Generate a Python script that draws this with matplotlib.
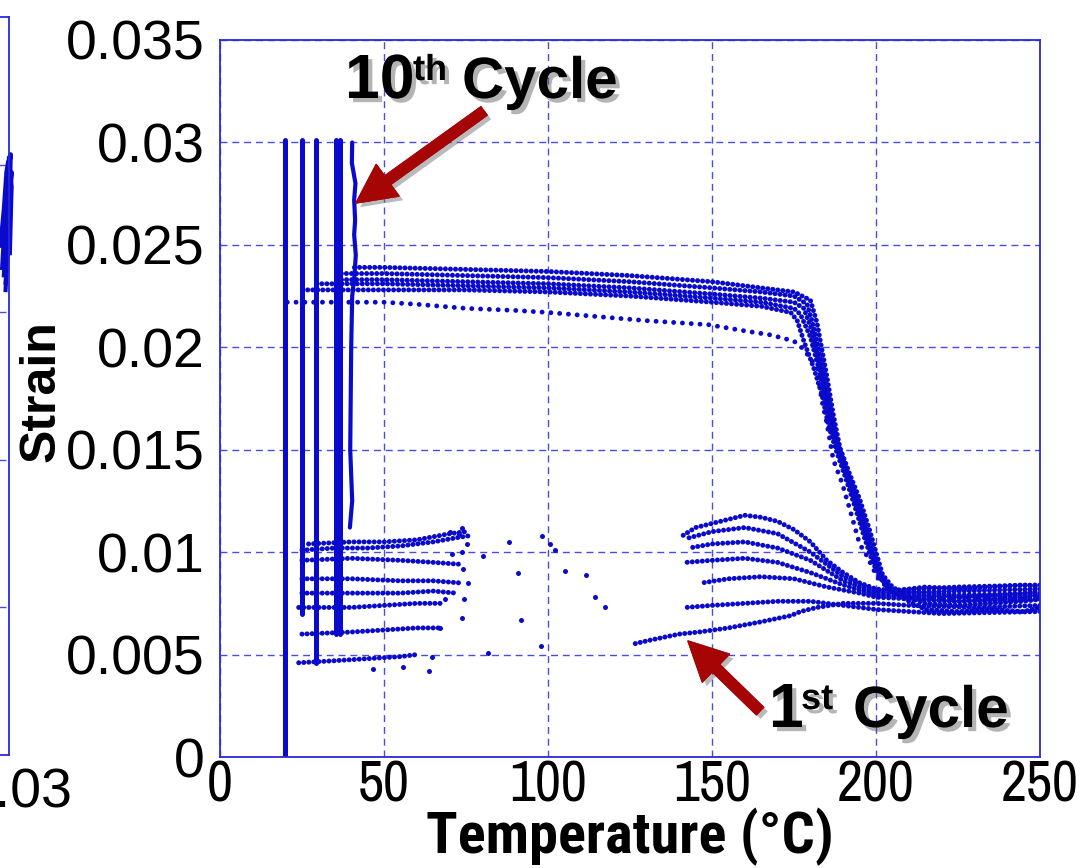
import matplotlib
matplotlib.use("Agg")
import matplotlib.pyplot as plt
import matplotlib.patches as mpatches
import matplotlib.patheffects as pe
from matplotlib import font_manager
from matplotlib.transforms import ScaledTranslation

# ---------------- data ----------------
# isothermal loading/unloading lines: temperature, lower strain, upper strain
vert_T = [19.8, 25.0, 29.3, 35.4, 36.6]
vert_lo = [0.0, 0.0070, 0.0046, 0.0060, 0.0060]
vert_hi = [0.0301, 0.0301, 0.0301, 0.0301, 0.0301]

# 10th cycle wavy loading line
v10_T = [40.3, 40.2, 41.3, 40.9, 41.2, 40.9, 41.4, 41.0, 40.3, 40.0, 39.7, 40.3, 39.6]
v10_S = [0.0300, 0.0290, 0.0280, 0.0272, 0.0262, 0.0255, 0.0245, 0.0235, 0.0225,
         0.0200, 0.0150, 0.0125, 0.0112]

# heating, 1st cycle
h1_T = [20.5, 30, 40, 50, 60, 75, 90, 100, 115, 130, 149, 160, 168, 175, 178, 182,
        183.5, 185, 187, 189.6, 192, 195, 197.3, 200.3, 205, 210, 220, 230, 240, 250]
h1_S = [0.0222, 0.0222, 0.0222, 0.0222, 0.0221, 0.0219, 0.0218, 0.0217, 0.0215, 0.0213,
        0.0211, 0.0208, 0.0206, 0.0203, 0.0199, 0.0190, 0.0174, 0.0163, 0.0145, 0.0134,
        0.0121, 0.0104, 0.0098, 0.0088, 0.0080, 0.0078, 0.0077, 0.0078, 0.0077, 0.0078]

# heating, later cycles (band)
hA_T = [41, 50, 75, 100, 125, 150, 165, 175, 180, 182, 185, 187, 189, 192, 195, 198,
        200, 202, 205, 208, 215, 225, 235, 245, 250]
hA_S = [0.0239, 0.0239, 0.0238, 0.0237, 0.0235, 0.0232, 0.0229, 0.0227, 0.0223, 0.0212,
        0.0186, 0.0167, 0.0151, 0.0138, 0.0126, 0.0111, 0.0100, 0.0089, 0.0083, 0.0080,
        0.0079, 0.0078, 0.0079, 0.0080, 0.0081]
hB_T = [37, 50, 75, 100, 125, 150, 165, 175, 179, 181, 184, 186, 188, 191, 194, 197,
        199, 201, 204, 207, 215, 225, 235, 245, 250]
hB_S = [0.0236, 0.0236, 0.0235, 0.0234, 0.0232, 0.0229, 0.0227, 0.0225, 0.0221, 0.0210,
        0.0188, 0.0170, 0.0155, 0.0140, 0.0127, 0.0112, 0.0100, 0.0090, 0.0083, 0.0079,
        0.0077, 0.0076, 0.0077, 0.0078, 0.0079]
hC_T = [35.5, 50, 75, 100, 125, 150, 165, 175, 178, 180.5, 183, 185, 187.5, 190, 193,
        196, 198.5, 200.5, 203, 206, 215, 225, 235, 245, 250]
hC_S = [0.0233, 0.0233, 0.0232, 0.0231, 0.0229, 0.0226, 0.0224, 0.0222, 0.0219, 0.0208,
        0.0190, 0.0175, 0.0158, 0.0145, 0.0130, 0.0115, 0.0102, 0.0091, 0.0084, 0.0080,
        0.0075, 0.0074, 0.0075, 0.0076, 0.0077]
hD_T = [29.5, 50, 75, 100, 125, 150, 165, 175, 177, 180, 182.5, 184.5, 186.5, 189, 192,
        195, 197.5, 200, 202.5, 205, 215, 225, 235, 245, 250]
hD_S = [0.0231, 0.0231, 0.0230, 0.0229, 0.0227, 0.0224, 0.0222, 0.0219, 0.0216, 0.0205,
        0.0190, 0.0176, 0.0160, 0.0147, 0.0133, 0.0118, 0.0105, 0.0093, 0.0085, 0.0081,
        0.0083, 0.0082, 0.0083, 0.0084, 0.0083]
hE_T = [25.2, 50, 75, 100, 125, 150, 165, 174, 176, 178, 181, 183.5, 185.5, 188, 191,
        194, 196.5, 199, 201.5, 204, 215, 225, 235, 245, 250]
hE_S = [0.0228, 0.0228, 0.0228, 0.0227, 0.0225, 0.0222, 0.0220, 0.0217, 0.0213, 0.0203,
        0.0190, 0.0177, 0.0162, 0.0149, 0.0135, 0.0120, 0.0107, 0.0095, 0.0087, 0.0081,
        0.0072, 0.0071, 0.0072, 0.0071, 0.0073]

# cooling, high-temperature / right cluster part
c1_T = [250, 230, 210, 200, 190, 182, 177, 174, 165, 155, 146, 140, 131, 125.6]
c1_S = [0.0074, 0.0073, 0.0074, 0.0075, 0.0075, 0.0073, 0.0071, 0.0069, 0.0066, 0.0063,
        0.0061, 0.0060, 0.0057, 0.0055]
c2_T = [250, 220, 200, 190, 180, 170, 160, 150, 142]
c2_S = [0.0071, 0.0070, 0.0072, 0.0074, 0.0076, 0.0076, 0.0075, 0.0074, 0.0073]
c3_T = [250, 225, 200, 195, 185, 175, 165, 155, 147]
c3_S = [0.0077, 0.0076, 0.0078, 0.0080, 0.0083, 0.0087, 0.0088, 0.0087, 0.0085]
c4_T = [250, 225, 200, 190, 180, 170, 160, 150, 142]
c4_S = [0.0079, 0.0078, 0.0079, 0.0084, 0.0090, 0.0095, 0.0097, 0.0096, 0.0095]
c5_T = [250, 225, 200, 190, 180, 170, 160, 150, 143]
c5_S = [0.0082, 0.0081, 0.0080, 0.0086, 0.0096, 0.0102, 0.0105, 0.0104, 0.0102]
c6_T = [250, 225, 200, 190, 180, 170, 160, 150, 143]
c6_S = [0.0084, 0.0083, 0.0081, 0.0088, 0.0100, 0.0109, 0.0112, 0.0110, 0.0107]
c7_T = [250, 225, 200, 195, 190, 185, 180, 175, 170, 165, 160, 155, 150, 145, 141]
c7_S = [0.0080, 0.0079, 0.0082, 0.0085, 0.0090, 0.0096, 0.0105, 0.0111, 0.0115, 0.0117,
        0.0118, 0.0116, 0.0114, 0.0112, 0.0108]

# cooling, low-temperature (left cluster) bands
L_T = [[27, 40, 50, 60, 70, 75],
       [25, 35, 45, 55, 65, 72, 76],
       [25, 40, 55, 65, 74],
       [25, 40, 55, 65, 73],
       [25, 40, 55, 65, 72],
       [24, 40, 50, 60, 68],
       [25, 40, 50, 60, 67],
       [24, 35, 45, 55, 60]]
L_S = [[0.0104, 0.0105, 0.0105, 0.0106, 0.0109, 0.0110],
       [0.0101, 0.0102, 0.0102, 0.0103, 0.0105, 0.0107, 0.0108],
       [0.0096, 0.0097, 0.0096, 0.0095, 0.0094],
       [0.0087, 0.0087, 0.0086, 0.0086, 0.0085],
       [0.0080, 0.0080, 0.0080, 0.0081, 0.0080],
       [0.0073, 0.0073, 0.0074, 0.0075, 0.0075],
       [0.0060, 0.0061, 0.0062, 0.0063, 0.0063],
       [0.0046, 0.0047, 0.0048, 0.0049, 0.0050]]

# isolated scattered points
sc_T = [73.7, 73.0, 75.2, 73.7, 74.0, 75.7, 74.5, 73.7, 63.7, 64.5, 67.1, 68.6, 70.7,
        70.0, 80.2, 88.1, 90.9, 81.7, 46.5, 55.9, 98.3, 100.5, 102.0, 105.2, 111.6,
        114.3, 117.4, 91.8, 97.9]
sc_S = [0.0112, 0.0109, 0.0104, 0.0100, 0.0092, 0.0085, 0.0077, 0.0068, 0.0042, 0.0049,
        0.0063, 0.0077, 0.0099, 0.0110, 0.0098, 0.0105, 0.0090, 0.0051, 0.0043, 0.0044,
        0.0108, 0.0104, 0.0101, 0.0091, 0.0089, 0.0078, 0.0073, 0.0067, 0.0054]

x_ticks = [0, 50, 100, 150, 200, 250]
y_ticks = [0, 0.005, 0.01, 0.015, 0.02, 0.025, 0.03, 0.035]
y_ticklabels = ["0", "0.005", "0.01", "0.015", "0.02", "0.025", "0.03", "0.035"]

# partial neighbouring panel (cut off at the left edge)
lp_x = [[0.0296, 0.0299, 0.0301, 0.0300, 0.0297, 0.0295],
        [0.0292, 0.0295, 0.0298, 0.0302, 0.0300, 0.0296],
        [0.0290, 0.0294, 0.0297, 0.0299, 0.0303, 0.0301],
        [0.0294, 0.0297, 0.0300, 0.0303, 0.0301, 0.0298]]
lp_y = [[3.15, 3.50, 3.80, 4.05, 3.70, 3.30],
        [3.30, 3.60, 3.90, 4.07, 3.55, 3.20],
        [3.45, 3.70, 3.95, 4.02, 3.85, 3.40],
        [3.25, 3.55, 3.75, 3.95, 3.60, 3.35]]

# ---------------- fonts ----------------
names = {f.name for f in font_manager.fontManager.ttflist}
REG = "Liberation Sans" if "Liberation Sans" in names else "DejaVu Sans"
def first(cands):
    for c in cands:
        if c in names:
            return c
    return REG
NAR = first(["Liberation Sans Narrow", "Arial Narrow", "Archivo Narrow", "Roboto Condensed"])
NARB = first(["Liberation Sans Narrow", "Arial Narrow", "Roboto Condensed", "Archivo Narrow"])

W, H = 1092, 868
def px(x, y):
    return (x / W, 1 - y / H)

BLUE = "#0a0acc"
FRAME = "#2a2ad8"
GRID = "#4a4ae6"
RED = "#a50505"

fig = plt.figure(figsize=(W / 100, H / 100), dpi=100)

# ---- partial left panel ----
axl = fig.add_axes([(9 - 300) / W, (H - 755) / H, 300 / W, (755 - 17) / H])
axl.set_xlim(-0.005, 0.03)
axl.set_ylim(0, 5)
axl.set_xticks([0.03])
axl.set_xticklabels(["0.03"], fontfamily=REG, fontsize=40)
axl.set_yticks([1, 2, 3, 4])
axl.set_yticklabels([])
axl.tick_params(length=0, pad=9)
for lab in axl.get_xticklabels():
    lab.set_transform(lab.get_transform() + ScaledTranslation(10 / 100, 0, fig.dpi_scale_trans))
axl.grid(True, axis="y", color=GRID, linestyle=(0, (5, 3.5)), lw=1.0)
for s in axl.spines.values():
    s.set_color(FRAME); s.set_linewidth(1.3)
for xs, ys in zip(lp_x, lp_y):
    axl.plot(xs, ys, color=BLUE, lw=3, clip_on=False)

# ---- main panel ----
ax = fig.add_axes([220 / W, (H - 757) / H, 820 / W, 717 / H])
ax.set_xlim(0, 250)
ax.set_ylim(0, 0.035)
ax.set_xticks(x_ticks)
ax.set_xticklabels([str(v) for v in x_ticks], fontfamily=NAR, fontsize=41)
ax.set_yticks(y_ticks)
ax.set_yticklabels(y_ticklabels, fontfamily=REG, fontsize=40)
ax.tick_params(axis="x", length=0, pad=2)
ax.tick_params(axis="y", length=0, pad=11)
ax.grid(True, color=GRID, linestyle=(0, (5, 3.5)), lw=1.0)
ax.set_axisbelow(True)
for s in ax.spines.values():
    s.set_color(FRAME); s.set_linewidth(1.3)

dot = dict(color=BLUE, lw=3.5, linestyle=(0, (0.01, 1.8)), dash_capstyle="round")
dense = dict(color=BLUE, lw=3.6, linestyle=(0, (0.01, 1.0)), dash_capstyle="round")

# loading lines
for T, lo, hi in zip(vert_T, vert_lo, vert_hi):
    ax.plot([T, T], [lo, hi], color=BLUE, lw=3.6, solid_capstyle="round")
ax.plot(v10_T, v10_S, color=BLUE, lw=3.0, solid_capstyle="round")

# heating
ax.plot(h1_T, h1_S, **dot)
for T, S in [(hA_T, hA_S), (hB_T, hB_S), (hC_T, hC_S), (hD_T, hD_S), (hE_T, hE_S)]:
    ax.plot(T, S, **dense)
# cooling
for T, S in [(c1_T, c1_S), (c2_T, c2_S), (c3_T, c3_S), (c4_T, c4_S),
             (c5_T, c5_S), (c6_T, c6_S), (c7_T, c7_S)]:
    ax.plot(T, S, **dense)
for T, S in zip(L_T, L_S):
    ax.plot(T, S, **dense)
ax.plot(sc_T, sc_S, "o", color=BLUE, ms=3.6, mew=0)

# axis labels
fig.text(*px(42, 391), "Strain", rotation=90, ha="center", va="center",
         fontfamily=REG, fontweight="bold", fontsize=36)
fig.text(*px(630, 837), "Temperature (°C)", ha="center", va="center",
         fontfamily=NARB, fontweight="bold", fontsize=42)

# annotations
shadow = [pe.withSimplePatchShadow(offset=(3, -3), shadow_rgbFace="0.35", alpha=0.45)]
for (big, sup, xb, yb, xs, ys, xc) in [("10", "th", 345, 98, 413, 80, 462),
                                         ("1", "st", 769, 727, 801, 709, 853)]:
    fig.text(*px(xb, yb), big, fontfamily=REG, fontweight="bold", fontsize=45,
             va="baseline", path_effects=shadow)
    fig.text(*px(xs, ys), sup, fontfamily=REG, fontweight="bold", fontsize=26,
             va="baseline", path_effects=shadow)
    fig.text(*px(xc, yb), "Cycle", fontfamily=REG, fontweight="bold", fontsize=42,
             va="baseline", path_effects=shadow)

def arrow(tail, head):
    a = mpatches.FancyArrowPatch(px(*tail), px(*head), transform=fig.transFigure,
                                 arrowstyle=mpatches.ArrowStyle.Simple(head_length=28, head_width=28, tail_width=7.5),
                                 color=RED, shrinkA=0, shrinkB=0, zorder=10,
                                 path_effects=[pe.withSimplePatchShadow(offset=(3, -3), shadow_rgbFace="0.4", alpha=0.45), pe.Normal()])
    fig.add_artist(a)

arrow((484, 111), (356, 203))
arrow((760, 711), (688, 641))

fig.savefig("out.png", dpi=100)
